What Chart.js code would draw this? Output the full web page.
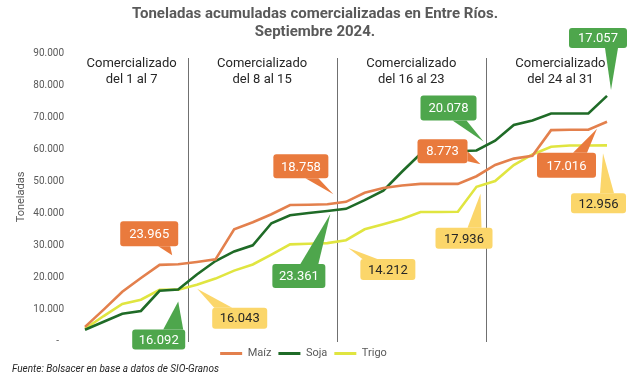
<!DOCTYPE html>
<html>
<head>
<meta charset="utf-8">
<script src="https://cdn.jsdelivr.net/npm/chart.js@4.4.1/dist/chart.umd.min.js"></script>
<style>
  html, body { margin: 0; padding: 0; background: #fff; }
</style>
</head>
<body>
<canvas id="grafico" width="642" height="379"></canvas>
<script>
// Datos: días de septiembre 2024 (acumulado en toneladas)
const dias = ['2','3','4','5','6','7','8','9','10','11','12','13','14','15','16','17','18','19','20','21','22','23','24','25','26','27','28','29','30'];
const maiz = [4400, 9800, 15400, 19700, 23800, 23965, 24700, 25500, 34900, 37100, 39600, 42500, 42600, 42723,
              43500, 46300, 47800, 48600, 49100, 49100, 49100, 51496, 55000, 57000, 57900, 65900, 66000, 66000, 68512];
const soja = [3500, 6000, 8500, 9400, 15700, 16092, 20800, 25000, 28000, 29900, 36800, 39300, 40000, 40600,
              41300, 44000, 47000, 52900, 58500, 59200, 59300, 59531, 62600, 67500, 68900, 71100, 71100, 71100, 76588];
const trigo = [3800, 7800, 11600, 12900, 16000, 16043, 17600, 19500, 22000, 23900, 27000, 30200, 30400, 30600,
               31500, 34900, 36500, 38100, 40300, 40300, 40400, 48191, 50000, 55000, 58300, 60700, 61100, 61100, 61147];

// Comercializado por semana (etiquetas de los globos)
const maizSemana = ['23.965', '18.758', '8.773', '17.016'];
const sojaSemana = ['16.092', '23.361', '20.078', '17.057'];
const trigoSemana = ['16.043', '14.212', '17.936', '12.956'];

// Semanas: primer y último día del tramo
const semanas = [
  { desde: 2, hasta: 7, fin: 7, texto: 'del 1 al 7' },
  { desde: 8, hasta: 15, fin: 15, texto: 'del 8 al 15' },
  { desde: 16, hasta: 23, fin: 23, texto: 'del 16 al 23' },
  { desde: 24, hasta: 31, fin: 30, texto: 'del 24 al 31' }
];

const yTicks = [0, 10000, 20000, 30000, 40000, 50000, 60000, 70000, 80000, 90000];

const colores = {
  maiz: '#E3804D', soja: '#1F6B27', trigo: '#E0E540',
  globoMaiz: '#E97A3D', globoSoja: '#4EA64C', globoTrigo: '#FBD66A'
};

// Globos: serie, semana, desplazamientos en px respecto del punto
const globos = [
  { serie: 0, sem: 0, tip: [-6, -9], caja: [-58, -43, 0, -18], base: [[-20, -18], [-8, -18]] },
  { serie: 1, sem: 0, tip: [0, 12], caja: [-46, 40, 7, 60], base: [[-15, 40], [5, 40]] },
  { serie: 2, sem: 0, tip: [19, -1], caja: [34, 18, 89, 39], base: [[36, 18], [54, 18]] },
  { serie: 0, sem: 1, tip: [6, -10], caja: [-54, -50, 1, -26], base: [[-22, -26], [-9, -26]] },
  { serie: 1, sem: 1, tip: [3, 3], caja: [-55, 53, -2, 77], base: [[-27, 53], [-9, 53]] },
  { serie: 2, sem: 1, tip: [21, 5], caja: [33, 16, 88, 37], base: [[35, 16], [50, 16]] },
  { serie: 1, sem: 2, tip: [7, -9], caja: [-56, -55, 0, -30], base: [[-24, -30], [-10, -30]] },
  { serie: 0, sem: 2, tip: [4, -12], caja: [-59, -37, -9, -13], base: [[-9, -25], [-9, -15]] },
  { serie: 2, sem: 2, tip: [4, 7], caja: [-41, 41, 16, 62], base: [[-9, 41], [5, 41]] },
  { serie: 1, sem: 3, tip: [4, -6], caja: [-38, -68, 20, -48], base: [[-2, -48], [11, -48]] },
  { serie: 0, sem: 3, tip: [-10, 7], caja: [-70, 31, -11, 56], base: [[-34, 31], [-20, 31]] },
  { serie: 2, sem: 3, tip: [-4, 8], caja: [-36, 48, 19, 68], base: [[-7, 48], [7, 48]] }
];

const FONT = 'Roboto, "Liberation Sans", sans-serif';
Chart.defaults.font.family = FONT;

function roundRect(ctx, x0, y0, x1, y1, r) {
  ctx.moveTo(x0 + r, y0);
  ctx.lineTo(x1 - r, y0);
  ctx.quadraticCurveTo(x1, y0, x1, y0 + r);
  ctx.lineTo(x1, y1 - r);
  ctx.quadraticCurveTo(x1, y1, x1 - r, y1);
  ctx.lineTo(x0 + r, y1);
  ctx.quadraticCurveTo(x0, y1, x0, y1 - r);
  ctx.lineTo(x0, y0 + r);
  ctx.quadraticCurveTo(x0, y0, x0 + r, y0);
  ctx.closePath();
}

const extras = {
  id: 'extras',
  beforeDatasetsDraw(chart) {
    const { ctx, chartArea, scales: { x } } = chart;
    ctx.save();
    // separadores de semana
    ctx.strokeStyle = '#707070';
    ctx.lineWidth = 1;
    semanas.slice(0, 3).forEach(s => {
      const px = Math.round(x.getPixelForValue(dias.indexOf(String(s.fin)) + 0.5)) + 0.5;
      ctx.beginPath();
      ctx.moveTo(px, chartArea.top + 5);
      ctx.lineTo(px, chartArea.bottom + 1);
      ctx.stroke();
    });
    // títulos de semana
    ctx.fillStyle = '#262626';
    ctx.font = '13px ' + FONT;
    ctx.textAlign = 'center';
    ctx.textBaseline = 'middle';
    semanas.forEach(s => {
      const a = x.getPixelForValue(s.desde - 2 - 0.5);
      const b = x.getPixelForValue(s.hasta - 2 + 0.5);
      const cx = (a + b) / 2;
      ctx.fillText('Comercializado', cx, 64);
      ctx.fillText(s.texto, cx, 80);
    });
    ctx.restore();
  },
  afterDatasetsDraw(chart) {
    const { ctx, scales: { x, y } } = chart;
    const series = [maiz, soja, trigo];
    const textos = [maizSemana, sojaSemana, trigoSemana];
    const fondos = [colores.globoMaiz, colores.globoSoja, colores.globoTrigo];
    const letras = ['#ffffff', '#ffffff', '#262626'];
    ctx.save();
    globos.forEach(g => {
      const i = dias.indexOf(String(semanas[g.sem].fin));
      const ax = x.getPixelForValue(i);
      const ay = y.getPixelForValue(series[g.serie][i]);
      const [x0, y0, x1, y1] = [ax + g.caja[0], ay + g.caja[1], ax + g.caja[2], ay + g.caja[3]];
      ctx.fillStyle = fondos[g.serie];
      ctx.beginPath();
      roundRect(ctx, x0, y0, x1, y1, 3);
      ctx.fill();
      ctx.beginPath();
      ctx.moveTo(ax + g.base[0][0], ay + g.base[0][1]);
      ctx.lineTo(ax + g.tip[0], ay + g.tip[1]);
      ctx.lineTo(ax + g.base[1][0], ay + g.base[1][1]);
      ctx.closePath();
      ctx.fill();
      ctx.fillStyle = letras[g.serie];
      ctx.font = '13px ' + FONT;
      ctx.textAlign = 'center';
      ctx.textBaseline = 'middle';
      ctx.fillText(textos[g.serie][g.sem], (x0 + x1) / 2, (y0 + y1) / 2 + 1);
    });
    ctx.restore();
  },
  afterDraw(chart) {
    const { ctx } = chart;
    ctx.save();
    ctx.fillStyle = '#595959';
    ctx.font = 'bold 15px ' + FONT;
    ctx.textAlign = 'center';
    ctx.textBaseline = 'middle';
    ctx.fillText('Toneladas acumuladas comercializadas en Entre Ríos.', 315, 14);
    ctx.fillText('Septiembre 2024.', 315, 32);
    ctx.fillStyle = '#262626';
    ctx.font = 'italic 10px ' + FONT;
    ctx.textAlign = 'left';
    ctx.fillText('Fuente: Bolsacer en base a datos de SIO-Granos', 12, 369);
    ctx.restore();
  }
};

const ctx = document.getElementById('grafico').getContext('2d');
new Chart(ctx, {
  type: 'line',
  data: {
    labels: dias,
    datasets: [
      { label: 'Maíz', data: maiz, borderColor: colores.maiz, backgroundColor: colores.maiz },
      { label: 'Soja', data: soja, borderColor: colores.soja, backgroundColor: colores.soja },
      { label: 'Trigo', data: trigo, borderColor: colores.trigo, backgroundColor: colores.trigo }
    ]
  },
  options: {
    responsive: false,
    animation: false,
    devicePixelRatio: 1,
    layout: { padding: { left: 0, right: 35, top: 53, bottom: 10 } },
    elements: {
      line: { borderWidth: 2.6, tension: 0 },
      point: { radius: 0 }
    },
    plugins: {
      legend: {
        position: 'bottom',
        labels: {
          boxWidth: 22,
          boxHeight: 3,
          padding: 7,
          color: '#595959',
          font: { size: 11 },
          generateLabels: c => Chart.defaults.plugins.legend.labels.generateLabels(c).map(l => ({ ...l, lineWidth: 0 }))
        }
      },
      tooltip: { enabled: false }
    },
    scales: {
      x: { display: false },
      y: {
        min: 0,
        max: 90000,
        afterFit: s => { s.width = 85; },
        afterBuildTicks: s => { s.ticks = yTicks.map(v => ({ value: v })); },
        border: { display: false },
        grid: { display: false, drawTicks: false },
        ticks: {
          padding: 21,
          color: '#595959',
          font: { size: 10 },
          callback: v => v === 0 ? '-  ' : v.toLocaleString('de-DE')
        },
        title: {
          display: true,
          text: 'Toneladas',
          color: '#595959',
          font: { size: 11 },
          padding: { top: 15, bottom: 0 }
        }
      }
    }
  },
  plugins: [extras]
});
</script>
</body>
</html>
